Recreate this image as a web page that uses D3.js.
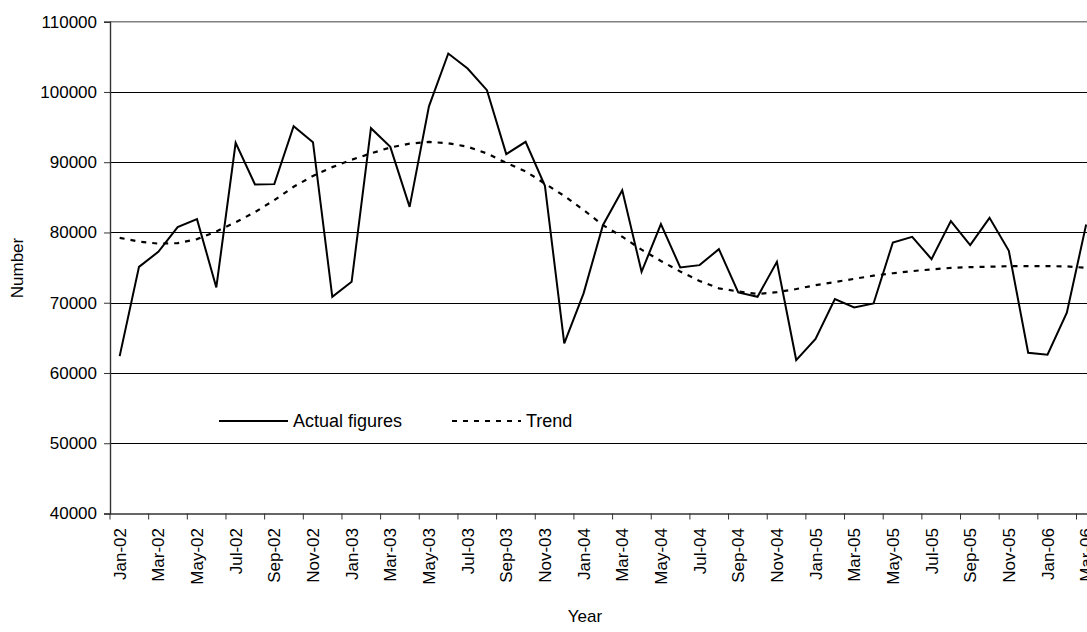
<!DOCTYPE html>
<html>
<head>
<meta charset="utf-8">
<script src="https://cdn.jsdelivr.net/npm/d3@7"></script>
<style>
  body { margin: 0; background: #fff; }
  svg { display: block; font-family: "Liberation Sans", Arial, sans-serif; }
</style>
</head>
<body>
<div id="chart"></div>
<script>
var months = ['Jan-02','Feb-02','Mar-02','Apr-02','May-02','Jun-02','Jul-02','Aug-02','Sep-02','Oct-02','Nov-02','Dec-02',
  'Jan-03','Feb-03','Mar-03','Apr-03','May-03','Jun-03','Jul-03','Aug-03','Sep-03','Oct-03','Nov-03','Dec-03',
  'Jan-04','Feb-04','Mar-04','Apr-04','May-04','Jun-04','Jul-04','Aug-04','Sep-04','Oct-04','Nov-04','Dec-04',
  'Jan-05','Feb-05','Mar-05','Apr-05','May-05','Jun-05','Jul-05','Aug-05','Sep-05','Oct-05','Nov-05','Dec-05',
  'Jan-06','Feb-06','Mar-06'];

var actual = [62400, 75100, 77250, 80760, 81900, 72180, 92750, 86830, 86880, 95130, 92850, 70840,
  72980, 94840, 92180, 83650, 97950, 105470, 103340, 100250, 91150, 92900, 86640, 64210,
  71330, 81040, 86020, 74400, 81190, 75030, 75350, 77630, 71470, 70840, 75820, 61840,
  64830, 70520, 69330, 69900, 78580, 79380, 76210, 81610, 78200, 82080, 77390, 62880,
  62600, 68570, 81140];

var trend = [79240, 78700, 78410, 78480, 79050, 80150, 81450, 82900, 84600, 86500, 88050, 89300,
  90350, 91250, 92100, 92650, 92900, 92700, 92200, 91250, 89900, 88700, 86950, 85200,
  83200, 81050, 79400, 77550, 75950, 74450, 73100, 72050, 71600, 71250, 71500, 71950,
  72500, 72950, 73400, 73850, 74200, 74500, 74750, 74950, 75070, 75130, 75200, 75210,
  75210, 75170, 74970];

var yTicks = [40000, 50000, 60000, 70000, 80000, 90000, 100000, 110000];

var width = 1087, height = 632;
var plotLeft = 110, plotTop = 21.7, plotBottom = 513.5, step = 19.33;
var fontSize = '17px';

var svg = d3.select('#chart').append('svg')
  .attr('width', width)
  .attr('height', height);

var x = d3.scaleBand()
  .domain(months)
  .range([plotLeft, plotLeft + months.length * step])
  .padding(0);

var y = d3.scaleLinear()
  .domain([40000, 110000])
  .range([plotBottom, plotTop]);

function cx(m) { return x(m) + x.bandwidth() / 2; }

// gridlines
svg.append('g')
  .selectAll('line')
  .data(yTicks.slice(1, -1))
  .enter()
  .append('line')
  .attr('x1', plotLeft)
  .attr('x2', x.range()[1])
  .attr('y1', function(d) { return Math.round(y(d)) + 0.5; })
  .attr('y2', function(d) { return Math.round(y(d)) + 0.5; })
  .attr('stroke', '#000')
  .attr('stroke-width', 1);

// plot area top border
svg.append('line')
  .attr('x1', plotLeft).attr('x2', x.range()[1])
  .attr('y1', y(110000)).attr('y2', y(110000))
  .attr('stroke', '#808080')
  .attr('stroke-width', 1.6);

// y axis
var yAxis = svg.append('g')
  .attr('transform', 'translate(' + plotLeft + ',0)')
  .call(d3.axisLeft(y).tickValues(yTicks).tickSize(6).tickPadding(7).tickFormat(d3.format('d')));
yAxis.select('.domain').attr('stroke', '#333').attr('stroke-width', 1.4);
yAxis.selectAll('.tick line').attr('stroke', '#333');
yAxis.selectAll('.tick text')
  .attr('font-size', fontSize)
  .attr('font-family', '"Liberation Sans", Arial, sans-serif')
  .attr('fill', '#000');

// x axis: labels on every other month, ticks between categories
var labelMonths = months.filter(function(d, i) { return i % 2 == 0; });

var xAxis = svg.append('g')
  .attr('transform', 'translate(0,' + plotBottom + ')')
  .call(d3.axisBottom(x).tickValues(labelMonths).tickSize(0).tickPadding(0));
xAxis.select('.domain').attr('stroke', '#333').attr('stroke-width', 1.4);
xAxis.selectAll('.tick text')
  .attr('font-size', fontSize)
  .attr('font-family', '"Liberation Sans", Arial, sans-serif')
  .attr('fill', '#000')
  .attr('text-anchor', 'end')
  .attr('transform', 'rotate(-90)')
  .attr('x', -14.5)
  .attr('y', 0)
  .attr('dy', '0.36em');

svg.append('g')
  .selectAll('line')
  .data(labelMonths)
  .enter()
  .append('line')
  .attr('x1', function(d) { return x(d); })
  .attr('x2', function(d) { return x(d); })
  .attr('y1', plotBottom)
  .attr('y2', plotBottom + 6)
  .attr('stroke', '#333')
  .attr('stroke-width', 1);

// series
var line = d3.line()
  .x(function(d, i) { return cx(months[i]); })
  .y(function(d) { return y(d); });

svg.append('path')
  .datum(trend)
  .attr('fill', 'none')
  .attr('stroke', '#000')
  .attr('stroke-width', 2.2)
  .attr('stroke-dasharray', '5,6')
  .attr('d', line);

svg.append('path')
  .datum(actual)
  .attr('fill', 'none')
  .attr('stroke', '#000')
  .attr('stroke-width', 2)
  .attr('stroke-linejoin', 'miter')
  .attr('d', line);

// legend
var legend = svg.append('g');
legend.append('line')
  .attr('x1', 219).attr('x2', 288).attr('y1', 421).attr('y2', 421)
  .attr('stroke', '#000').attr('stroke-width', 2);
legend.append('text')
  .attr('x', 293).attr('y', 421).attr('dy', '0.35em')
  .attr('font-size', '18px')
  .text('Actual figures');
legend.append('line')
  .attr('x1', 452).attr('x2', 521).attr('y1', 421).attr('y2', 421)
  .attr('stroke', '#000').attr('stroke-width', 2)
  .attr('stroke-dasharray', '5,6');
legend.append('text')
  .attr('x', 526).attr('y', 421).attr('dy', '0.35em')
  .attr('font-size', '18px')
  .text('Trend');

// axis titles
svg.append('text')
  .attr('transform', 'translate(17,268) rotate(-90)')
  .attr('text-anchor', 'middle')
  .attr('dy', '0.35em')
  .attr('font-size', fontSize)
  .text('Number');

svg.append('text')
  .attr('x', 585)
  .attr('y', 622)
  .attr('text-anchor', 'middle')
  .attr('font-size', fontSize)
  .text('Year');
</script>
</body>
</html>
